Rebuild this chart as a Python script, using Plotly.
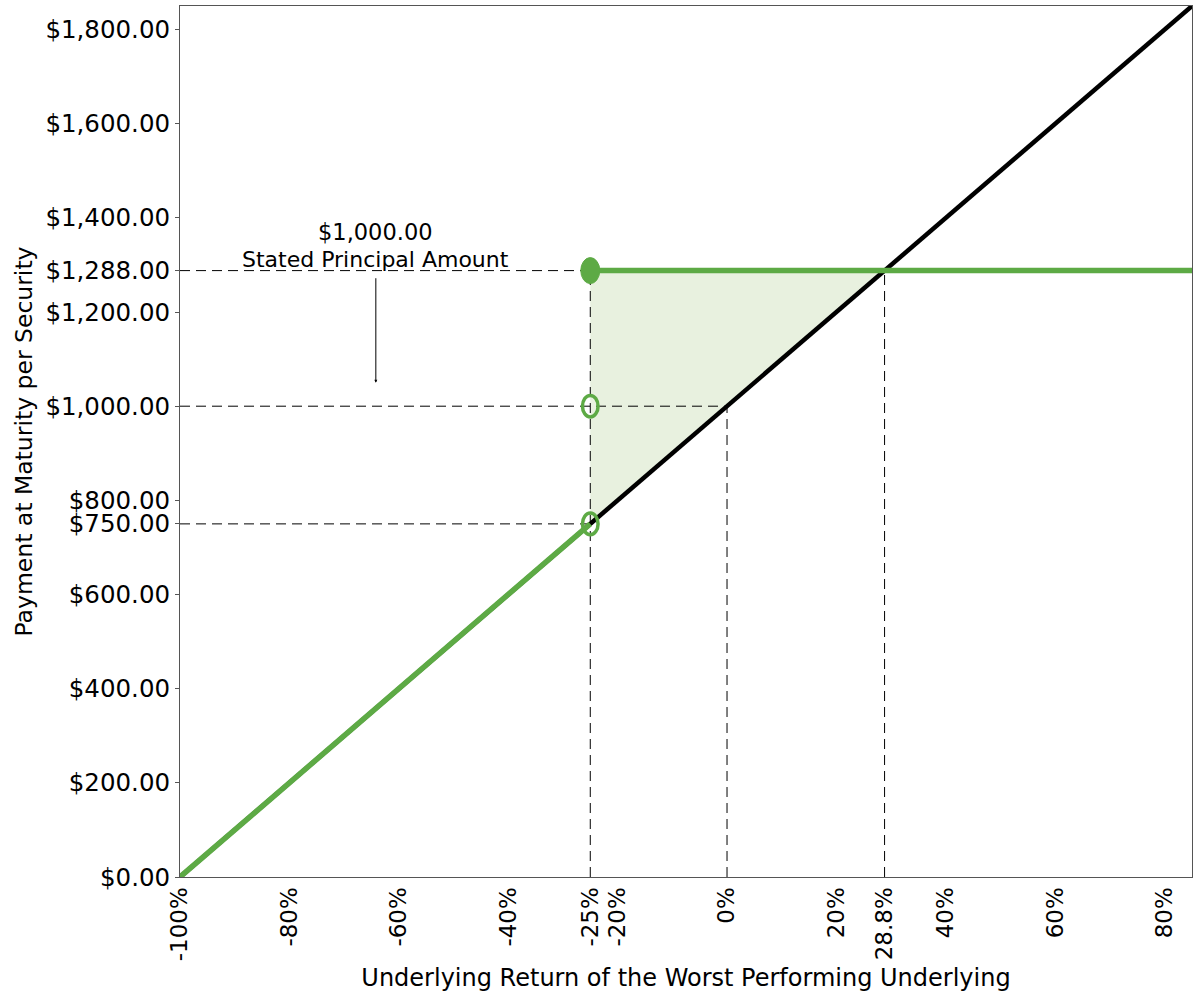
import plotly.graph_objects as go

# ---- data ----
underlying_return = [-100, -25, 0, 28.8, 85]          # % return of worst performing underlying
underlying_payment = [0, 750, 1000, 1288, 1850]       # 1:1 participation line

note_lower_x = [-100, -25]
note_lower_y = [0, 750]
note_cap_x = [-25, 85]
note_cap_y = [1288, 1288]

fill_x = [-25, 28.8, -25]
fill_y = [1288, 1288, 750]

ref_h_levels = [1288, 1000, 750]
ref_h_ends = [-25, 0, -25]
ref_v_positions = [-25, 0, 28.8]
ref_v_tops = [1288, 1000, 1288]

marker_x = [-25, -25, -25]
marker_y = [1288, 1000, 750]
marker_filled = [True, False, False]

y_ticks = [0, 200, 400, 600, 750, 800, 1000, 1200, 1288, 1400, 1600, 1800]
y_tick_text = ["$%s.00" % format(v, ",") for v in y_ticks]
x_ticks = [-100, -80, -60, -40, -25, -20, 0, 20, 28.8, 40, 60, 80]
x_tick_text = ["-100%", "-80%", "-60%", "-40%", "-25%", "-20%", "0%", "20%", "28.8%", "40%", "60%", "80%"]

GREEN = "#5DAA45"
FILL = "#E8F1DF"
FONT = "DejaVu Sans"

fig = go.Figure()

# shaded region
fig.add_trace(go.Scatter(x=fill_x, y=fill_y, fill="toself", fillcolor=FILL,
                         mode="none", showlegend=False, hoverinfo="skip"))

# dashed reference lines
for lvl, end in zip(ref_h_levels, ref_h_ends):
    fig.add_trace(go.Scatter(x=[-100, end], y=[lvl, lvl], mode="lines",
                             line=dict(color="black", width=1, dash="10px,6px"),
                             showlegend=False, hoverinfo="skip"))
for pos, top in zip(ref_v_positions, ref_v_tops):
    fig.add_trace(go.Scatter(x=[pos, pos], y=[0, top], mode="lines",
                             line=dict(color="black", width=1, dash="10px,6px"),
                             showlegend=False, hoverinfo="skip"))

# underlying return line
fig.add_trace(go.Scatter(x=underlying_return, y=underlying_payment, mode="lines",
                         line=dict(color="black", width=4.5), showlegend=False))
# note payoff
fig.add_trace(go.Scatter(x=note_lower_x, y=note_lower_y, mode="lines",
                         line=dict(color=GREEN, width=5.5), showlegend=False))
fig.add_trace(go.Scatter(x=note_cap_x, y=note_cap_y, mode="lines",
                         line=dict(color=GREEN, width=5.5), showlegend=False))

# ellipse markers
shapes = []
for mx, my, filled in zip(marker_x, marker_y, marker_filled):
    if filled:
        shapes.append(dict(type="circle", xref="x", yref="y", xsizemode="pixel", ysizemode="pixel",
                           xanchor=mx, yanchor=my, x0=-9.5, x1=9.5, y0=-13, y1=13,
                           fillcolor=GREEN, line=dict(color=GREEN, width=1)))
    else:
        shapes.append(dict(type="circle", xref="x", yref="y", xsizemode="pixel", ysizemode="pixel",
                           xanchor=mx, yanchor=my, x0=-7.8, x1=7.8, y0=-10.8, y1=10.8,
                           fillcolor="rgba(0,0,0,0)", line=dict(color=GREEN, width=3.5)))

annotations = [
    dict(x=-64.2, y=1370, xref="x", yref="y", text="$1,000.00", showarrow=False,
         font=dict(family=FONT, size=22.5, color="black")),
    dict(x=-64.2, y=1311, xref="x", yref="y", text="Stated Principal Amount", showarrow=False,
         font=dict(family=FONT, size=22, color="black")),
    dict(x=-64.2, y=1050, xref="x", yref="y", ax=-64.2, ay=1275, axref="x", ayref="y",
         text="", showarrow=True, arrowhead=2, arrowsize=0.6, arrowwidth=1, arrowcolor="black"),
]

fig.update_layout(
    width=1200, height=1000,
    margin=dict(l=180, r=8, t=6, b=123),
    paper_bgcolor="white", plot_bgcolor="white",
    font=dict(family=FONT, color="black"),
    shapes=shapes, annotations=annotations,
    xaxis=dict(range=[-100, 85], tickmode="array", tickvals=x_ticks, ticktext=x_tick_text,
               tickangle=-90, tickfont=dict(size=23, family=FONT), showgrid=False, zeroline=False,
               showline=True, linecolor="#555555", linewidth=1, mirror=True, ticks="",
               title=dict(text="Underlying Return of the Worst Performing Underlying",
                          font=dict(size=24, family=FONT), standoff=8)),
    yaxis=dict(range=[0, 1850], tickmode="array", tickvals=y_ticks, ticktext=y_tick_text,
               tickfont=dict(size=24.5, family=FONT), showgrid=False, zeroline=False,
               showline=True, linecolor="#555555", linewidth=1, mirror=True,
               ticks="outside", ticklen=4, tickcolor="#555555",
               title=dict(text="Payment at Maturity per Security",
                          font=dict(size=23.5, family=FONT), standoff=6)),
)

fig.write_html("out.html", config={"displayModeBar": False},
               post_script="document.body.style.margin='0px';")
